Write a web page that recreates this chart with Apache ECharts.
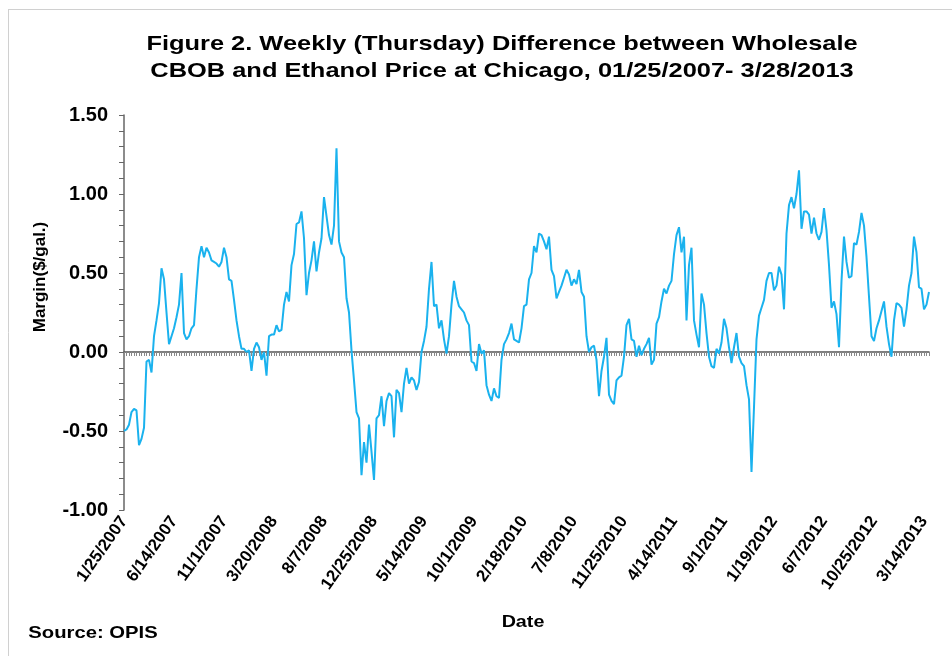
<!DOCTYPE html>
<html>
<head>
	<meta charset="utf-8">
	<title>CBOB - Ethanol margin</title>
	<script src="https://cdn.jsdelivr.net/npm/echarts@6/dist/echarts.min.js"></script>
	<style>
	html, body {
		margin: 0;
		padding: 0;
		background: #ffffff;
	}
	#main {
		width: 952px;
		height: 656px;
	}
	</style>
</head>
<body>
	<div id="main"></div>
	<script>
		// weekly (Thursday) margin, $/gal, split by calendar year
		var m2007 = [
			-0.50, -0.49, -0.46, -0.38, -0.36, -0.37, -0.59, -0.55, -0.48, -0.06,
			-0.05, -0.13, 0.10, 0.20, 0.31, 0.53, 0.46, 0.25, 0.05, 0.10,
			0.15, 0.22, 0.30, 0.50, 0.12, 0.08, 0.10, 0.15, 0.17, 0.40,
			0.60, 0.67, 0.60, 0.66, 0.63, 0.58, 0.57, 0.56, 0.54, 0.57,
			0.66, 0.60, 0.46, 0.45, 0.33, 0.20, 0.10, 0.02, 0.02
		];
		var m2008 = [
			0.00,
			0.01, -0.12, 0.02, 0.06, 0.03, -0.05, 0.00, -0.15, 0.10, 0.11,
			0.11, 0.17, 0.13, 0.14, 0.30, 0.38, 0.32, 0.55, 0.62, 0.81,
			0.82, 0.89, 0.72, 0.36, 0.50, 0.58, 0.70, 0.51, 0.63, 0.72,
			0.98, 0.86, 0.74, 0.68, 0.80, 1.29, 0.70, 0.63, 0.60, 0.34,
			0.25, 0.01, -0.18, -0.38, -0.42, -0.78, -0.57, -0.70, -0.46, -0.63,
			-0.81
		];
		var m2009 = [
			-0.42, -0.40, -0.28, -0.47, -0.31, -0.26, -0.28, -0.54, -0.24,
			-0.26, -0.38, -0.20, -0.10, -0.20, -0.16, -0.18, -0.24, -0.19, 0.00,
			0.07, 0.16, 0.40, 0.57, 0.29, 0.30, 0.15, 0.20, 0.08, -0.01,
			0.10, 0.30, 0.45, 0.35, 0.29, 0.27, 0.25, 0.20, 0.17, -0.06,
			-0.07, -0.12, 0.05, -0.01, 0.01, -0.21, -0.27, -0.31, -0.23, -0.28,
			-0.29, -0.05, 0.05, 0.08
		];
		var m2010 = [
			0.12, 0.18, 0.08, 0.07, 0.06, 0.15,
			0.29, 0.30, 0.46, 0.50, 0.67, 0.63, 0.75, 0.74, 0.70, 0.65,
			0.73, 0.52, 0.48, 0.34, 0.38, 0.42, 0.47, 0.52, 0.49, 0.42,
			0.46, 0.43, 0.52, 0.38, 0.35, 0.10, 0.00, 0.03, 0.04, -0.05,
			-0.28, -0.12, -0.03, 0.09, -0.27, -0.31, -0.33, -0.18, -0.16, -0.15,
			-0.03, 0.17, 0.21, 0.08, 0.07, -0.03
		];
		var m2011 = [
			0.04, -0.02, 0.02, 0.05,
			0.09, -0.08, -0.05, 0.18, 0.22, 0.32, 0.40, 0.37, 0.42, 0.45,
			0.62, 0.74, 0.79, 0.63, 0.73, 0.20, 0.55, 0.66, 0.20, 0.11,
			0.03, 0.37, 0.30, 0.12, -0.03, -0.09, -0.10, 0.02, -0.01, 0.06,
			0.21, 0.15, 0.03, -0.07, 0.03, 0.12, -0.03, -0.07, -0.09, -0.21,
			-0.30, -0.76, -0.35, 0.08, 0.23, 0.28, 0.33, 0.45
		];
		var m2012 = [
			0.50, 0.50,
			0.39, 0.42, 0.54, 0.49, 0.27, 0.75, 0.93, 0.98, 0.91, 1.00,
			1.15, 0.78, 0.89, 0.89, 0.87, 0.75, 0.85, 0.75, 0.71, 0.76,
			0.91, 0.77, 0.55, 0.28, 0.32, 0.24, 0.03, 0.45, 0.73, 0.57,
			0.47, 0.48, 0.69, 0.68, 0.76, 0.88, 0.80, 0.60, 0.35, 0.10,
			0.07, 0.15, 0.20, 0.26, 0.32, 0.16, 0.05, -0.03, 0.20, 0.31
		];
		var m2013 = [
			0.30, 0.28, 0.16, 0.27, 0.42, 0.50, 0.73, 0.63, 0.41, 0.40,
			0.27, 0.30, 0.38
		];

		var margin = [].concat(m2007, m2008, m2009, m2010, m2011, m2012, m2013);

		// one Thursday per value, starting 1/25/2007
		var firstWeek = Date.UTC(2007, 0, 25);
		var dates = [];
		for (var i = 0; i < margin.length; i++) {
			var d = new Date(firstWeek + i * 7 * 86400000);
			dates.push((d.getUTCMonth() + 1) + '/' + d.getUTCDate() + '/' + d.getUTCFullYear());
		}

		var font = 'Arial, "Liberation Sans", sans-serif';
		var titleText = 'Figure 2. Weekly (Thursday) Difference between Wholesale\nCBOB and Ethanol Price at Chicago, 01/25/2007- 3/28/2013';

		var myChart = echarts.init(document.getElementById('main'));

		// the original's lettering is a little wider than Arial, hence the scaleX
		function label(txt, x, y, size, sx, rot) {
			return {
				type: 'text',
				x: x, y: y,
				scaleX: sx || 1,
				rotation: rot || 0,
				style: {
					text: txt,
					fontFamily: font,
					fontSize: size,
					fontWeight: 'bold',
					fill: '#000',
					lineHeight: 27,
					align: 'center',
					verticalAlign: 'middle',
					textAlign: 'center',
					textVerticalAlign: 'middle'
				}
			};
		}

		var option = {
			backgroundColor: '#ffffff',
			animation: false,
			graphic: [
				{ type: 'line', shape: { x1: 8, y1: 9.5, x2: 952, y2: 9.5 }, style: { stroke: '#d0d0d0', lineWidth: 1 } },
				{ type: 'line', shape: { x1: 8.5, y1: 9, x2: 8.5, y2: 656 }, style: { stroke: '#d0d0d0', lineWidth: 1 } },
				label(titleText, 502, 58, 21, 1.21),
				label('Source: OPIS', 93, 633, 17, 1.19),
				label('Date', 523, 622, 17, 1.16),
				label('Margin($/gal.)', 40, 277, 17, 1, Math.PI / 2)
			],
			grid: {
				left: 124,
				right: 23,
				top: 115,
				bottom: 146,
				containLabel: false
			},
			xAxis: [
				{
					type: 'category',
					data: dates,
					boundaryGap: false,
					axisLine: { show: false, onZero: false },
					axisTick: { show: false },
					axisLabel: {
						interval: 19,
						rotate: 55,
						margin: 8,
						fontFamily: font,
						fontSize: 17,
						fontWeight: 'bold',
						color: '#000'
					},
					splitLine: { show: false }
				},
				{
					type: 'category',
					data: dates,
					boundaryGap: false,
					position: 'bottom',
					axisLine: { show: true, onZero: true, lineStyle: { color: '#555', width: 1.5 } },
					axisTick: { show: true, interval: 0, length: 4, lineStyle: { color: '#888', width: 1 } },
					axisLabel: { show: false },
					splitLine: { show: false }
				}
			],
			yAxis: {
				type: 'value',
				min: -1,
				max: 1.5,
				interval: 0.5,
				axisLine: { show: true, lineStyle: { color: '#666', width: 1.5 } },
				axisTick: { show: true, length: 5, lineStyle: { color: '#666' } },
				minorTick: { show: true, splitNumber: 5, length: 5, lineStyle: { color: '#666' } },
				axisLabel: {
					margin: 16,
					fontFamily: font,
					fontSize: 20,
					fontWeight: 'bold',
					color: '#000',
					formatter: function (v) { return v.toFixed(2); }
				},
				splitLine: { show: false }
			},
			series: [
				{
					type: 'line',
					data: margin,
					xAxisIndex: 0,
					showSymbol: false,
					symbol: 'none',
					lineStyle: { color: '#1AB2EE', width: 2 }
				}
			]
		};
		myChart.setOption(option);
	</script>
</body>
</html>
